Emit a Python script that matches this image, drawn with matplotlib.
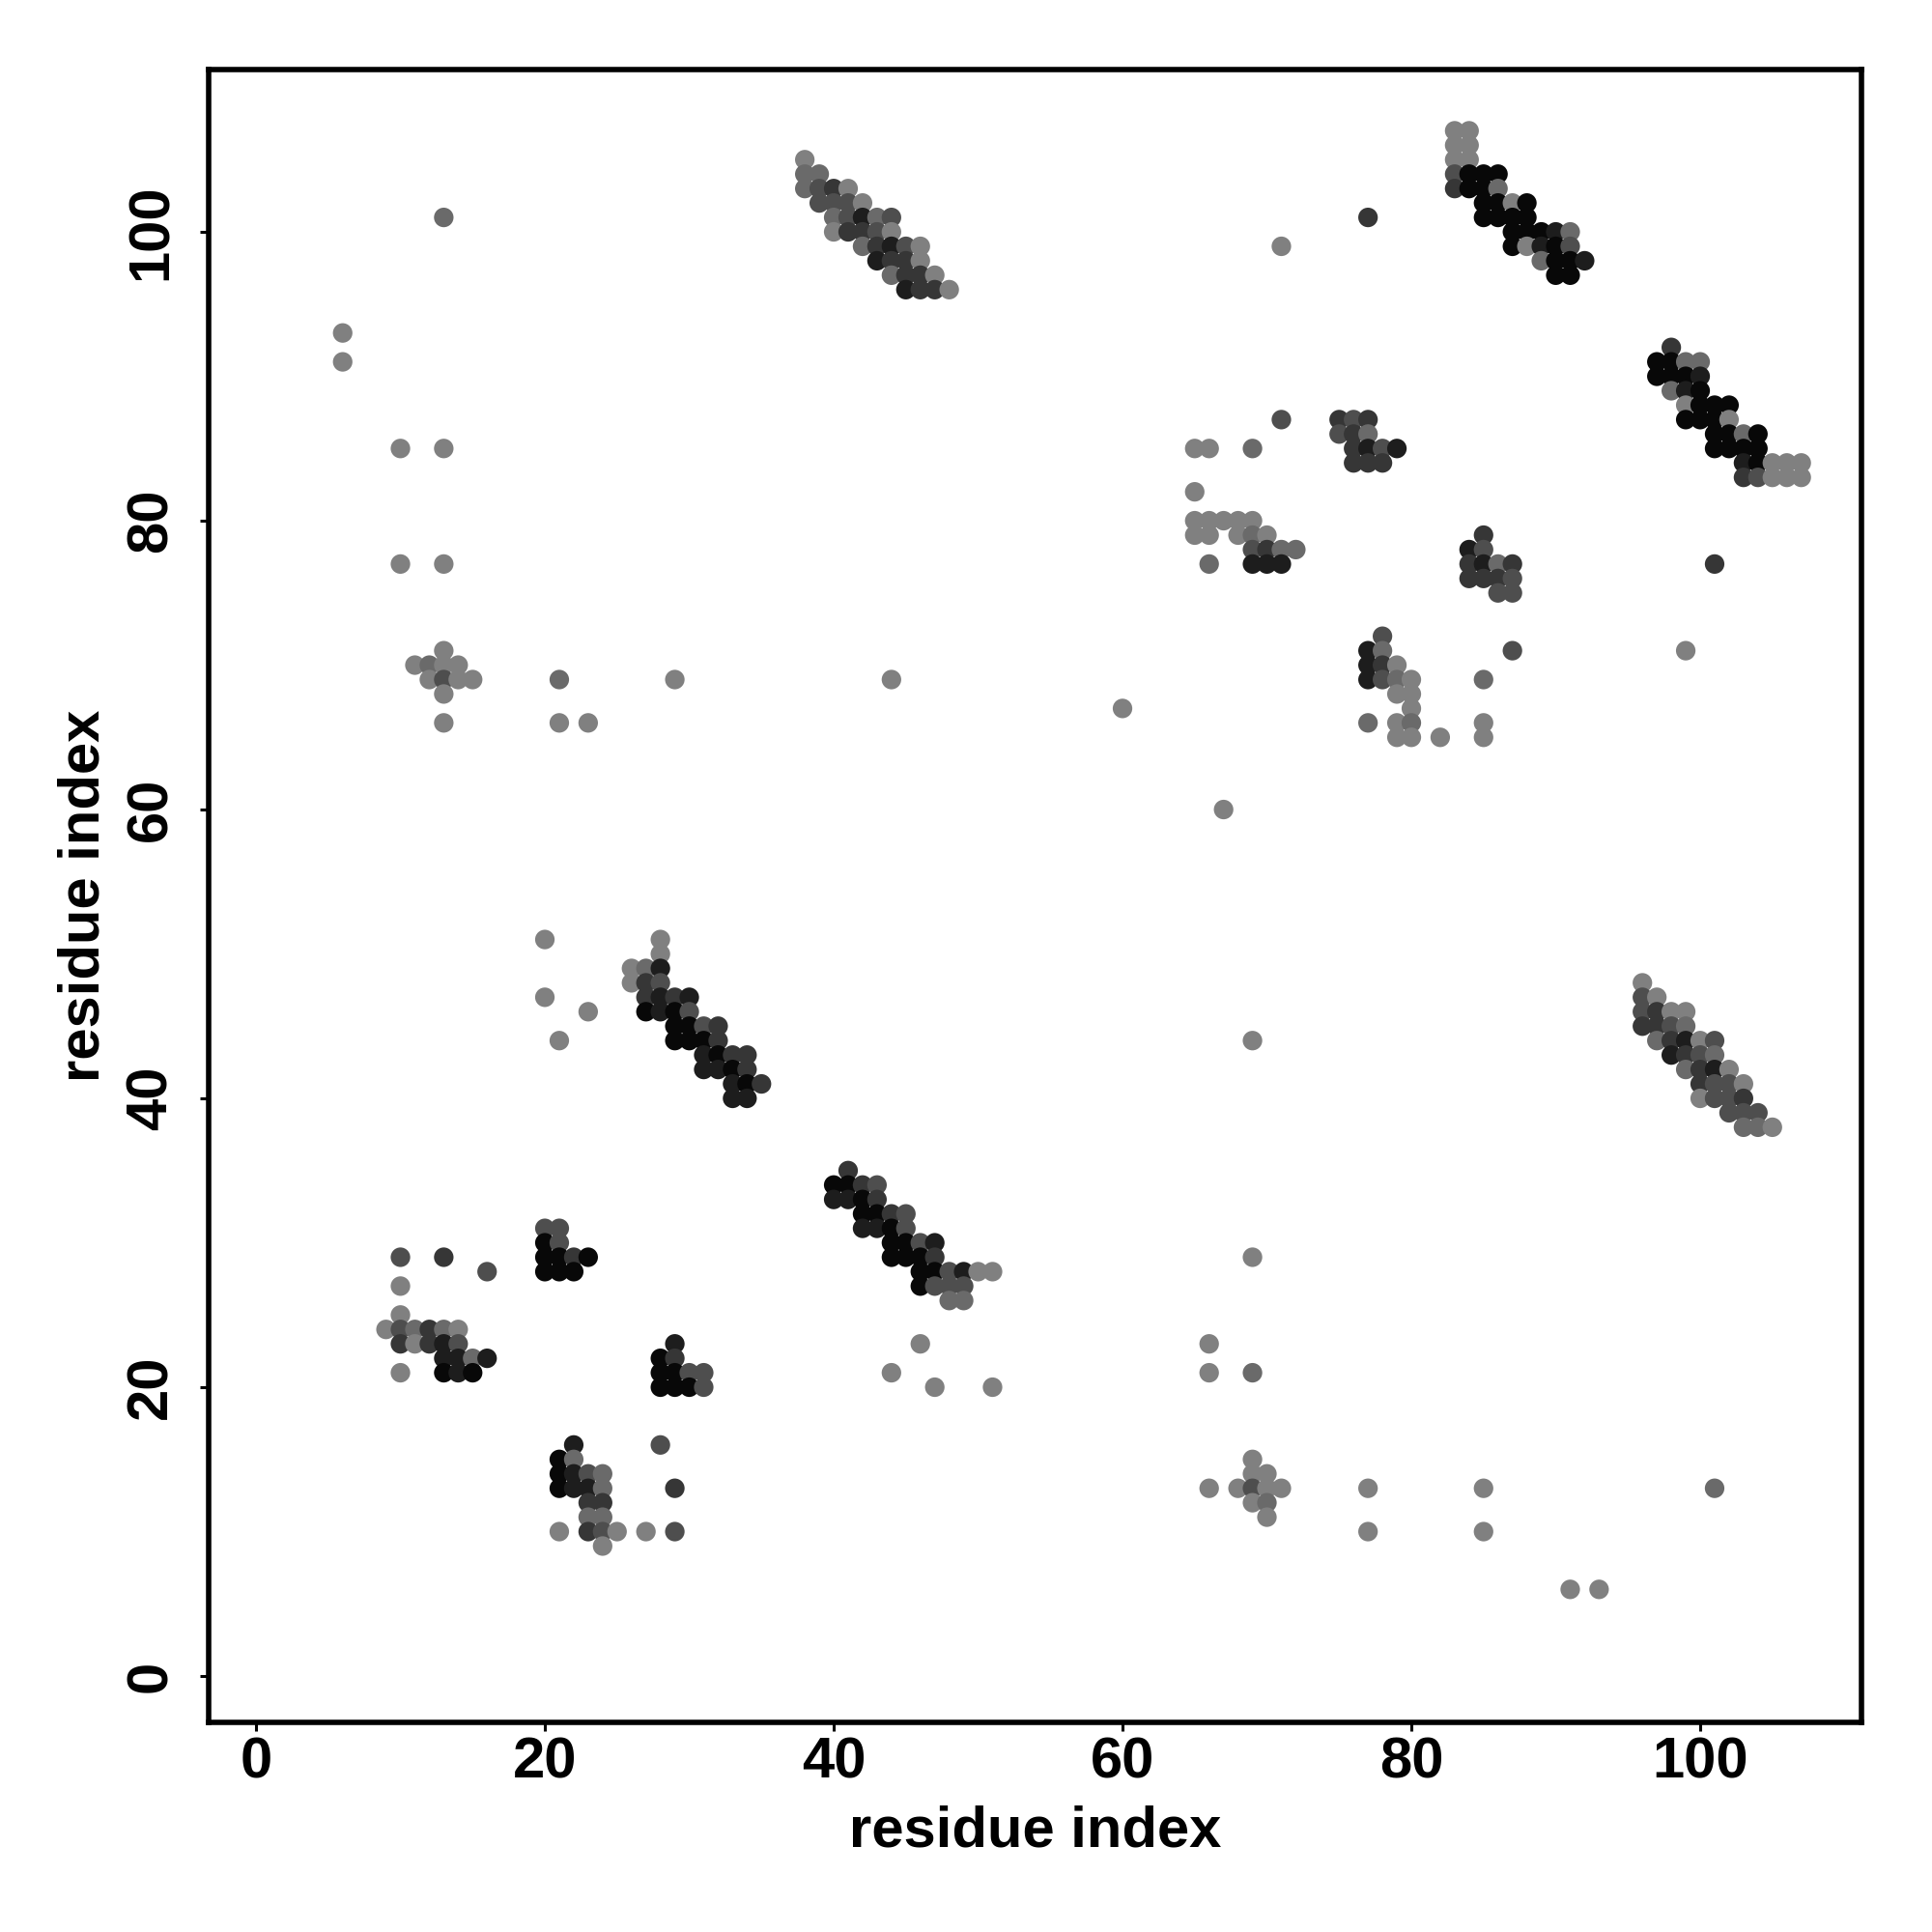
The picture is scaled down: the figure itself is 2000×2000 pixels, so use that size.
import matplotlib
matplotlib.use("Agg")
import matplotlib.pyplot as plt

plt.rcParams['font.family'] = ['Liberation Sans', 'DejaVu Sans']
plt.rcParams['font.weight'] = 'bold'

# contact map: residue i, residue j, shade level (1 = light grey ... 6 = black)
res_i = [
    # upper left, scattered
    13, 6, 6, 10, 13, 10, 13, 13, 11, 12, 13, 14, 12, 13, 14, 15, 13, 13,
    21, 21, 23, 29, 44, 60, 67,
    # diagonal around 38-48 / 96-105
    38, 38, 39, 38, 39, 40, 41, 39, 40, 41, 42, 40, 41, 42, 43, 44,
    40, 41, 42, 43, 44, 42, 43, 44, 45, 46, 43, 44, 45, 46,
    44, 45, 46, 47, 45, 46, 47, 48,
    # top right
    71, 77, 83, 84, 83, 84, 83, 84, 83, 84, 85, 86, 83, 84, 85, 86,
    85, 86, 87, 88, 85, 86, 87, 88, 87, 88, 89, 90, 91, 87, 88, 89, 90, 91,
    89, 90, 91, 92, 90, 91,
    # right, 97-107 / 83-92
    98, 97, 98, 99, 100, 97, 98, 99, 100, 98, 99, 100, 99, 100, 101, 102,
    99, 100, 101, 102, 101, 102, 103, 104, 101, 102, 103, 104,
    103, 104, 105, 106, 107, 103, 104, 105, 106, 107, 101, 99,
    # middle right
    71, 75, 76, 77, 75, 76, 77, 76, 77, 78, 79, 76, 77, 78, 65, 66, 69, 65,
    65, 66, 67, 68, 69, 65, 66, 68, 69, 70, 69, 70, 71, 72, 66, 69, 70, 71,
    85, 84, 85, 84, 85, 86, 87, 84, 85, 86, 87, 86, 87,
    78, 77, 78, 87, 77, 78, 79, 77, 78, 79, 80, 85, 79, 80, 80,
    77, 79, 80, 85, 79, 80, 82, 85,
    # middle left diagonal
    20, 20, 23, 21, 28, 28, 26, 27, 28, 26, 27, 28, 27, 28, 29, 30,
    27, 28, 29, 30, 29, 30, 31, 32, 29, 30, 31, 32, 31, 32, 33, 34,
    31, 32, 33, 34, 33, 34, 35, 33, 34,
    # right middle diagonal
    96, 96, 97, 96, 97, 98, 99, 96, 97, 98, 99, 97, 98, 99, 100, 101,
    98, 99, 100, 101, 99, 100, 101, 102, 100, 101, 102, 103,
    100, 101, 102, 103, 102, 103, 104, 103, 104, 105,
    # bottom left
    10, 13, 16, 10, 10, 9, 10, 11, 12, 13, 14, 10, 11, 12, 13, 14,
    13, 14, 15, 16, 10, 13, 14, 15, 20, 21, 20, 21, 20, 21, 22, 23, 20, 21, 22,
    29, 28, 29, 28, 29, 30, 31, 28, 29, 30, 31,
    22, 28, 21, 22, 21, 22, 23, 24, 21, 22, 23, 24, 29, 23, 24, 23, 24,
    21, 23, 24, 25, 27, 29, 24,
    # bottom middle diagonal
    41, 40, 41, 42, 43, 40, 41, 42, 43, 42, 43, 44, 45, 42, 43, 44, 45,
    44, 45, 46, 47, 44, 45, 46, 47, 46, 47, 48, 49, 50, 51, 46, 47, 48, 49,
    48, 49, 46, 44, 47, 51,
    # bottom right, scattered
    69, 69, 66, 66, 69, 69, 69, 70, 66, 68, 69, 70, 71, 77, 85, 101,
    69, 70, 70, 77, 85, 91, 93,
]

res_j = [
    101, 93, 91, 85, 85, 77, 77, 71, 70, 70, 70, 70, 69, 69, 69, 69, 68, 66,
    69, 66, 66, 69, 69, 67, 60,
    105, 104, 104, 103, 103, 103, 103, 102, 102, 102, 102, 101, 101, 101, 101, 101,
    100, 100, 100, 100, 100, 99, 99, 99, 99, 99, 98, 98, 98, 98,
    97, 97, 97, 97, 96, 96, 96, 96,
    99, 101, 107, 107, 106, 106, 105, 105, 104, 104, 104, 104, 103, 103, 103, 103,
    102, 102, 102, 102, 101, 101, 101, 101, 100, 100, 100, 100, 100, 99, 99, 99, 99, 99,
    98, 98, 98, 98, 97, 97,
    92, 91, 91, 91, 91, 90, 90, 90, 90, 89, 89, 89, 88, 88, 88, 88,
    87, 87, 87, 87, 86, 86, 86, 86, 85, 85, 85, 85,
    84, 84, 84, 84, 84, 83, 83, 83, 83, 83, 77, 71,
    87, 87, 87, 87, 86, 86, 86, 85, 85, 85, 85, 84, 84, 84, 85, 85, 85, 82,
    80, 80, 80, 80, 80, 79, 79, 79, 79, 79, 78, 78, 78, 78, 77, 77, 77, 77,
    79, 78, 78, 77, 77, 77, 77, 76, 76, 76, 76, 75, 75,
    72, 71, 71, 71, 70, 70, 70, 69, 69, 69, 69, 69, 68, 68, 67,
    66, 66, 66, 66, 65, 65, 65, 65,
    51, 47, 46, 44, 51, 50, 49, 49, 49, 48, 48, 48, 47, 47, 47, 47,
    46, 46, 46, 46, 45, 45, 45, 45, 44, 44, 44, 44, 43, 43, 43, 43,
    42, 42, 42, 42, 41, 41, 41, 40, 40,
    48, 47, 47, 46, 46, 46, 46, 45, 45, 45, 45, 44, 44, 44, 44, 44,
    43, 43, 43, 43, 42, 42, 42, 42, 41, 41, 41, 41,
    40, 40, 40, 40, 39, 39, 39, 38, 38, 38,
    29, 29, 28, 27, 25, 24, 24, 24, 24, 24, 24, 23, 23, 23, 23, 23,
    22, 22, 22, 22, 21, 21, 21, 21, 31, 31, 30, 30, 29, 29, 29, 29, 28, 28, 28,
    23, 22, 22, 21, 21, 21, 21, 20, 20, 20, 20,
    16, 16, 15, 15, 14, 14, 14, 14, 13, 13, 13, 13, 13, 12, 12, 11, 11,
    10, 10, 10, 10, 10, 10, 9,
    35, 34, 34, 34, 34, 33, 33, 33, 33, 32, 32, 32, 32, 31, 31, 31, 31,
    30, 30, 30, 30, 29, 29, 29, 29, 28, 28, 28, 28, 28, 28, 27, 27, 27, 27,
    26, 26, 23, 21, 20, 20,
    44, 29, 23, 21, 21, 15, 14, 14, 13, 13, 13, 13, 13, 13, 13, 13,
    12, 12, 11, 10, 10, 6, 6,
]

shade = [
    2, 1, 1, 1, 1, 1, 1, 1, 1, 2, 1, 1, 1, 3, 1, 1, 1, 1,
    2, 1, 1, 1, 1, 1, 1,
    1, 2, 2, 2, 3, 4, 1, 3, 3, 3, 1, 2, 3, 5, 2, 3,
    1, 4, 4, 3, 1, 2, 4, 5, 3, 1, 5, 4, 4, 1,
    2, 4, 4, 1, 5, 4, 4, 1,
    1, 4, 1, 1, 1, 1, 1, 1, 3, 6, 6, 6, 4, 6, 6, 2,
    6, 6, 1, 6, 6, 6, 6, 6, 6, 6, 6, 5, 2, 6, 1, 5, 6, 3,
    2, 6, 6, 5, 6, 6,
    4, 6, 6, 2, 2, 6, 6, 6, 5, 2, 5, 6, 1, 6, 6, 6,
    6, 6, 6, 1, 6, 6, 2, 6, 6, 6, 6, 6,
    5, 6, 1, 1, 1, 4, 3, 1, 1, 1, 4, 1,
    3, 4, 3, 4, 3, 4, 2, 4, 5, 3, 5, 4, 4, 4, 1, 1, 2, 1,
    1, 1, 1, 1, 1, 1, 1, 1, 2, 1, 3, 4, 2, 2, 2, 5, 5, 5,
    4, 5, 3, 4, 5, 2, 4, 4, 4, 4, 3, 3, 3,
    3, 5, 2, 3, 5, 4, 1, 5, 3, 2, 1, 2, 1, 1, 1,
    2, 1, 2, 1, 1, 1, 1, 1,
    1, 1, 1, 1, 1, 1, 1, 2, 5, 1, 4, 3, 4, 5, 4, 5,
    6, 5, 6, 3, 6, 6, 3, 4, 6, 6, 6, 4, 5, 6, 4, 4,
    5, 5, 6, 4, 5, 6, 4, 5, 5,
    1, 3, 1, 3, 4, 1, 1, 4, 4, 3, 2, 2, 4, 5, 1, 3,
    5, 4, 3, 2, 2, 4, 5, 1, 4, 3, 3, 1,
    1, 3, 3, 4, 3, 3, 3, 2, 2, 1,
    3, 4, 3, 1, 1, 1, 3, 2, 4, 2, 1, 4, 1, 4, 5, 3,
    5, 5, 2, 5, 1, 6, 5, 6, 3, 3, 6, 3, 6, 6, 4, 6, 6, 6, 6,
    5, 6, 4, 6, 6, 3, 3, 6, 6, 6, 3,
    5, 3, 6, 2, 6, 5, 3, 2, 6, 5, 5, 2, 4, 4, 4, 2, 2,
    1, 4, 3, 1, 1, 3, 1,
    4, 6, 6, 4, 3, 5, 5, 6, 4, 6, 6, 4, 3, 5, 5, 6, 3,
    6, 6, 3, 5, 6, 6, 6, 4, 6, 6, 3, 5, 1, 1, 6, 3, 3, 3,
    2, 2, 1, 1, 1, 1,
    1, 1, 1, 1, 2, 1, 1, 1, 1, 1, 3, 1, 1, 1, 1, 2,
    1, 2, 1, 1, 1, 1, 1,
]

greys = {1: '#808080', 2: '#6a6a6a', 3: '#4e4e4e', 4: '#363636', 5: '#1d1d1d', 6: '#080808'}
cols = [greys[s] for s in shade]

fig = plt.figure(figsize=(10, 10), dpi=200)
ax = fig.add_axes([0.108, 0.1085, 0.8555, 0.8555])

ax.scatter(res_i, res_j, c=cols, s=53, linewidths=0, zorder=3)

ax.set_xlim(-3.28, 111.17)
ax.set_ylim(-3.21, 111.24)
ax.set_xticks([0, 20, 40, 60, 80, 100])
ax.set_yticks([0, 20, 40, 60, 80, 100])

for sp in ax.spines.values():
    sp.set_linewidth(2.0)

ax.tick_params(axis='both', direction='out', length=3.3, width=1.1, labelsize=21.5)
ax.tick_params(axis='x', pad=1.8)
ax.tick_params(axis='y', pad=8, labelrotation=90)
for lab in ax.get_yticklabels():
    lab.set_va('center')
    lab.set_fontweight('bold')
for lab in ax.get_xticklabels():
    lab.set_fontweight('bold')

ax.set_xlabel("residue index", fontsize=21.5, fontweight='bold', labelpad=6)
ax.set_ylabel("residue index", fontsize=21.5, fontweight='bold', labelpad=5.5)

fig.savefig("out.png", dpi=200, facecolor='white')
